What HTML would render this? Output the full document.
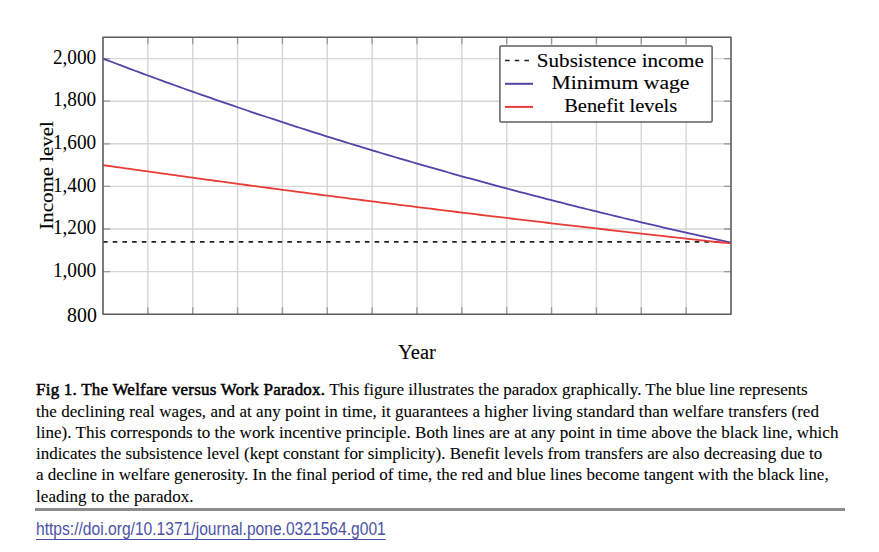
<!DOCTYPE html>
<html><head><meta charset="utf-8"><style>
html,body{margin:0;padding:0;background:#fff;width:879px;height:552px;overflow:hidden;}
.chart{position:absolute;left:0;top:0;}
.cap{position:absolute;left:35px;top:0;width:810px;font-family:"Liberation Serif",serif;font-size:17px;color:#000;-webkit-text-stroke:0.08px #000;}
b{font-weight:normal;-webkit-text-stroke:0.5px #000;}
.ln{position:absolute;left:1px;white-space:nowrap;}
.rule{position:absolute;left:35px;top:508px;width:810px;height:3px;background:#8c8c8c;}
.doi{position:absolute;left:36px;top:518.7px;font-family:"Liberation Sans",sans-serif;font-size:17.5px;color:#4b52a6;white-space:nowrap;border-bottom:1px solid #4b52a6;transform:scaleX(0.892);transform-origin:0 0;line-height:20px;}
</style></head><body>
<svg class="chart" width="879" height="552" viewBox="0 0 879 552">
<path d="M147.86 37.30V314.20M192.71 37.30V314.20M237.57 37.30V314.20M282.43 37.30V314.20M327.29 37.30V314.20M372.14 37.30V314.20M417.00 37.30V314.20M461.86 37.30V314.20M506.71 37.30V314.20M551.57 37.30V314.20M596.43 37.30V314.20M641.29 37.30V314.20M686.14 37.30V314.20M103.00 271.60H731.00M103.00 229.00H731.00M103.00 186.40H731.00M103.00 143.80H731.00M103.00 101.20H731.00M103.00 58.60H731.00" stroke="#d6d6d6" stroke-width="1.4" fill="none"/>
<path d="M147.86 314.20v-7M147.86 37.30v7M192.71 314.20v-7M192.71 37.30v7M237.57 314.20v-7M237.57 37.30v7M282.43 314.20v-7M282.43 37.30v7M327.29 314.20v-7M327.29 37.30v7M372.14 314.20v-7M372.14 37.30v7M417.00 314.20v-7M417.00 37.30v7M461.86 314.20v-7M461.86 37.30v7M506.71 314.20v-7M506.71 37.30v7M551.57 314.20v-7M551.57 37.30v7M596.43 314.20v-7M596.43 37.30v7M641.29 314.20v-7M641.29 37.30v7M686.14 314.20v-7M686.14 37.30v7M103.00 271.60h7M731.00 271.60h-7M103.00 229.00h7M731.00 229.00h-7M103.00 186.40h7M731.00 186.40h-7M103.00 143.80h7M731.00 143.80h-7M103.00 101.20h7M731.00 101.20h-7M103.00 58.60h7M731.00 58.60h-7" stroke="#999" stroke-width="1.3" fill="none"/>
<path d="M103.0 241.78H731.0" stroke="#222" stroke-width="1.7" stroke-dasharray="4.6 5.1" fill="none"/>
<path d="M103.00 58.60L107.49 60.32L111.97 62.03L116.46 63.73L120.94 65.43L125.43 67.12L129.91 68.80L134.40 70.48L138.89 72.15L143.37 73.81L147.86 75.47L152.34 77.12L156.83 78.76L161.31 80.40L165.80 82.03L170.29 83.65L174.77 85.27L179.26 86.88L183.74 88.48L188.23 90.08L192.71 91.67L197.20 93.26L201.69 94.83L206.17 96.41L210.66 97.97L215.14 99.53L219.63 101.08L224.11 102.63L228.60 104.17L233.09 105.70L237.57 107.23L242.06 108.75L246.54 110.27L251.03 111.78L255.51 113.28L260.00 114.78L264.49 116.27L268.97 117.76L273.46 119.23L277.94 120.71L282.43 122.17L286.91 123.64L291.40 125.09L295.89 126.54L300.37 127.99L304.86 129.42L309.34 130.86L313.83 132.28L318.31 133.70L322.80 135.12L327.29 136.53L331.77 137.93L336.26 139.33L340.74 140.72L345.23 142.11L349.71 143.49L354.20 144.86L358.69 146.23L363.17 147.60L367.66 148.96L372.14 150.31L376.63 151.66L381.11 153.00L385.60 154.34L390.09 155.67L394.57 157.00L399.06 158.32L403.54 159.63L408.03 160.94L412.51 162.25L417.00 163.55L421.49 164.84L425.97 166.13L430.46 167.42L434.94 168.70L439.43 169.97L443.91 171.24L448.40 172.50L452.89 173.76L457.37 175.01L461.86 176.26L466.34 177.51L470.83 178.74L475.31 179.98L479.80 181.21L484.29 182.43L488.77 183.65L493.26 184.86L497.74 186.07L502.23 187.27L506.71 188.47L511.20 189.67L515.69 190.86L520.17 192.04L524.66 193.22L529.14 194.39L533.63 195.57L538.11 196.73L542.60 197.89L547.09 199.05L551.57 200.20L556.06 201.35L560.54 202.49L565.03 203.63L569.51 204.76L574.00 205.89L578.49 207.01L582.97 208.13L587.46 209.25L591.94 210.36L596.43 211.46L600.91 212.56L605.40 213.66L609.89 214.75L614.37 215.84L618.86 216.92L623.34 218.00L627.83 219.08L632.31 220.15L636.80 221.22L641.29 222.28L645.77 223.34L650.26 224.39L654.74 225.44L659.23 226.48L663.71 227.52L668.20 228.56L672.69 229.59L677.17 230.62L681.66 231.65L686.14 232.67L690.63 233.68L695.11 234.69L699.60 235.70L704.09 236.70L708.57 237.70L713.06 238.70L717.54 239.69L722.03 240.68L726.51 241.66L731.00 242.64" stroke="#5242a9" stroke-width="1.8" fill="none"/>
<path d="M103.00 165.10L107.49 165.74L111.97 166.38L116.46 167.02L120.94 167.66L125.43 168.29L129.91 168.93L134.40 169.56L138.89 170.20L143.37 170.83L147.86 171.46L152.34 172.09L156.83 172.71L161.31 173.34L165.80 173.97L170.29 174.59L174.77 175.21L179.26 175.83L183.74 176.45L188.23 177.07L192.71 177.69L197.20 178.31L201.69 178.92L206.17 179.53L210.66 180.15L215.14 180.76L219.63 181.37L224.11 181.98L228.60 182.59L233.09 183.19L237.57 183.80L242.06 184.40L246.54 185.00L251.03 185.61L255.51 186.21L260.00 186.81L264.49 187.40L268.97 188.00L273.46 188.60L277.94 189.19L282.43 189.78L286.91 190.38L291.40 190.97L295.89 191.56L300.37 192.14L304.86 192.73L309.34 193.32L313.83 193.90L318.31 194.49L322.80 195.07L327.29 195.65L331.77 196.23L336.26 196.81L340.74 197.39L345.23 197.96L349.71 198.54L354.20 199.11L358.69 199.69L363.17 200.26L367.66 200.83L372.14 201.40L376.63 201.97L381.11 202.54L385.60 203.10L390.09 203.67L394.57 204.23L399.06 204.80L403.54 205.36L408.03 205.92L412.51 206.48L417.00 207.04L421.49 207.59L425.97 208.15L430.46 208.70L434.94 209.26L439.43 209.81L443.91 210.36L448.40 210.91L452.89 211.46L457.37 212.01L461.86 212.56L466.34 213.11L470.83 213.65L475.31 214.19L479.80 214.74L484.29 215.28L488.77 215.82L493.26 216.36L497.74 216.90L502.23 217.44L506.71 217.97L511.20 218.51L515.69 219.04L520.17 219.58L524.66 220.11L529.14 220.64L533.63 221.17L538.11 221.70L542.60 222.23L547.09 222.75L551.57 223.28L556.06 223.80L560.54 224.33L565.03 224.85L569.51 225.37L574.00 225.89L578.49 226.41L582.97 226.93L587.46 227.45L591.94 227.96L596.43 228.48L600.91 228.99L605.40 229.51L609.89 230.02L614.37 230.53L618.86 231.04L623.34 231.55L627.83 232.06L632.31 232.56L636.80 233.07L641.29 233.58L645.77 234.08L650.26 234.58L654.74 235.09L659.23 235.59L663.71 236.09L668.20 236.59L672.69 237.08L677.17 237.58L681.66 238.08L686.14 238.57L690.63 239.07L695.11 239.56L699.60 240.05L704.09 240.54L708.57 241.03L713.06 241.52L717.54 242.01L722.03 242.50L726.51 242.98L731.00 243.47" stroke="#e63c36" stroke-width="1.8" fill="none"/>
<rect x="103.0" y="37.3" width="628.0" height="276.90" stroke="#5c5c5c" stroke-width="1.6" fill="none" stroke-linejoin="round"/>
<rect x="499.9" y="45.9" width="212.20" height="76.00" rx="1.2" stroke="#606060" stroke-width="1.5" fill="#fff"/>
<path d="M505 60.5H530" stroke="#222" stroke-width="1.7" stroke-dasharray="4.6 5.1" fill="none"/>
<path d="M505 83.8H533" stroke="#5242a9" stroke-width="2" fill="none"/>
<path d="M505 106.9H533" stroke="#e63c36" stroke-width="2" fill="none"/>
<g font-family="Liberation Serif" font-size="20.5" fill="#000"><text x="96.8" y="321.60" text-anchor="end" textLength="29.7" lengthAdjust="spacingAndGlyphs">800</text><text x="96.2" y="276.70" text-anchor="end" textLength="43.3" lengthAdjust="spacingAndGlyphs">1,000</text><text x="96.2" y="234.10" text-anchor="end" textLength="43.3" lengthAdjust="spacingAndGlyphs">1,200</text><text x="96.2" y="191.50" text-anchor="end" textLength="43.3" lengthAdjust="spacingAndGlyphs">1,400</text><text x="96.2" y="148.90" text-anchor="end" textLength="43.3" lengthAdjust="spacingAndGlyphs">1,600</text><text x="96.2" y="106.30" text-anchor="end" textLength="43.3" lengthAdjust="spacingAndGlyphs">1,800</text><text x="96.2" y="63.70" text-anchor="end" textLength="43.3" lengthAdjust="spacingAndGlyphs">2,000</text></g>
<text x="417" y="359.3" text-anchor="middle" font-family="Liberation Serif" font-size="20.5" fill="#000" stroke="#000" stroke-width="0.1">Year</text>
<text transform="translate(52.9 175.5) rotate(-90)" text-anchor="middle" font-family="Liberation Serif" font-size="19.5" textLength="108.5" lengthAdjust="spacingAndGlyphs" fill="#000" stroke="#000" stroke-width="0.1">Income level</text>
<g font-family="Liberation Serif" font-size="19.5" fill="#000" stroke="#000" stroke-width="0.1" text-anchor="middle" lengthAdjust="spacingAndGlyphs"><text x="620.3" y="66.6" textLength="167" lengthAdjust="spacingAndGlyphs">Subsistence income</text><text x="620.5" y="89.3" textLength="138" lengthAdjust="spacingAndGlyphs">Minimum wage</text><text x="620.7" y="112.0" textLength="113" lengthAdjust="spacingAndGlyphs">Benefit levels</text></g>
</svg>
<div class="cap">
<div class="ln" style="top:380.25px;letter-spacing:-0.023px"><b style="letter-spacing:0.224px">Fig 1. The Welfare versus Work Paradox.</b> This figure illustrates the paradox graphically. The blue line represents</div>
<div class="ln" style="top:401.55px;letter-spacing:0.047px">the declining real wages, and at any point in time, it guarantees a higher living standard than welfare transfers (red</div>
<div class="ln" style="top:422.65px;letter-spacing:0.029px">line). This corresponds to the work incentive principle. Both lines are at any point in time above the black line, which</div>
<div class="ln" style="top:443.95px;letter-spacing:-0.021px">indicates the subsistence level (kept constant for simplicity). Benefit levels from transfers are also decreasing due to</div>
<div class="ln" style="top:465.45px;letter-spacing:0.014px">a decline in welfare generosity. In the final period of time, the red and blue lines become tangent with the black line,</div>
<div class="ln" style="top:486.65px;letter-spacing:0.083px">leading to the paradox.</div>
</div>
<div class="rule"></div>
<div class="doi">https://doi.org/10.1371/journal.pone.0321564.g001</div>
</body></html>
